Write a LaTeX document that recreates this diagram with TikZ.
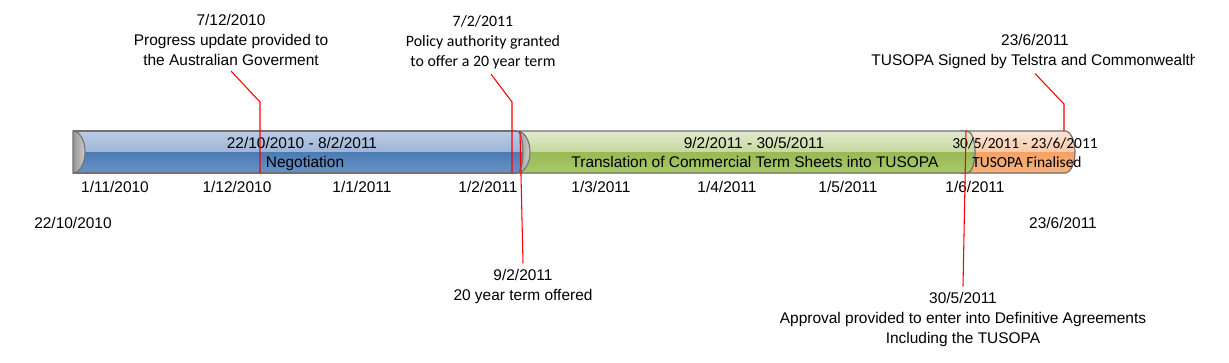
\documentclass[tikz,border=0pt]{standalone}
\usepackage{fontspec}
\setmainfont{Liberation Sans}
\newfontfamily\calibri{Carlito}
\usepackage{tikz}
\definecolor{Neg-1}{RGB}{190,206,230}
\definecolor{Neg-2}{RGB}{158,181,216}
\definecolor{Neg-3}{RGB}{76,122,178}
\definecolor{Neg-4}{RGB}{104,150,204}
\definecolor{Trn-1}{RGB}{228,236,210}
\definecolor{Trn-2}{RGB}{198,216,158}
\definecolor{Trn-3}{RGB}{152,185,86}
\definecolor{Trn-4}{RGB}{172,202,108}
\definecolor{Fin-1}{RGB}{253,232,220}
\definecolor{Fin-2}{RGB}{249,201,166}
\definecolor{Fin-3}{RGB}{243,162,104}
\definecolor{Fin-4}{RGB}{248,180,128}
\definecolor{Cap-1}{RGB}{205,205,205}
\definecolor{Cap-2}{RGB}{150,150,150}
\definecolor{Edge}{RGB}{112,112,112}

\begin{document}
\begin{tikzpicture}[x=0.75pt, y=0.75pt,
  datelbl/.style={font=\fontsize{11.6}{15}\selectfont, inner sep=0pt, anchor=base},
  callout/.style={font=\fontsize{11.6}{15}\selectfont, inner sep=0pt, outer sep=4pt, align=center},
  redline/.style={draw=red, line width=0.8pt},
  baredge/.style={draw=Edge, line width=0.9pt},
  endcap/.style={draw=Edge, line width=0.8pt, left color=Cap-2, right color=Cap-1}]
  \useasboundingbox (0,0) rectangle (1229,-362);

  % bar: finalised (bottom of the stack)
  \begin{scope}
    \clip (960,-131) -- (1065,-131) arc[start angle=90, end angle=-90, x radius=10, y radius=21] -- (960,-173) -- cycle;
    \fill[top color=Fin-1, bottom color=Fin-2] (955,-129) rectangle (1080,-152);
    \fill[top color=Fin-3, bottom color=Fin-4] (955,-152) rectangle (1080,-175);
  \end{scope}
  \draw[baredge] (960,-131) -- (1065,-131) arc[start angle=90, end angle=-90, x radius=10, y radius=21] -- (960,-173);

  % bar: translation
  \begin{scope}
    \clip (518,-131) -- (967,-131) arc[start angle=90, end angle=-90, x radius=8, y radius=21] -- (518,-173) -- cycle;
    \fill[top color=Trn-1, bottom color=Trn-2] (515,-129) rectangle (980,-152);
    \fill[top color=Trn-3, bottom color=Trn-4] (515,-152) rectangle (980,-175);
  \end{scope}
  \draw[baredge] (518,-131) -- (967,-131) arc[start angle=90, end angle=-90, x radius=8, y radius=21] -- (518,-173);

  % bar: negotiation
  \begin{scope}
    \clip (73,-131) -- (517,-131) arc[start angle=90, end angle=-90, x radius=6, y radius=21] -- (73,-173) -- cycle;
    \fill[top color=Neg-1, bottom color=Neg-2] (70,-129) rectangle (530,-152);
    \fill[top color=Neg-3, bottom color=Neg-4] (70,-152) rectangle (530,-175);
  \end{scope}
  \draw[baredge] (73,-131) -- (517,-131) (517,-173) -- (73,-173) -- cycle;

  % end caps
  \draw[endcap] (73,-131) arc[start angle=90, end angle=-90, x radius=12, y radius=21] -- cycle;
  \draw[endcap] (517,-131) arc[start angle=90, end angle=-90, x radius=6, y radius=21]
    arc[start angle=-90, end angle=90, x radius=13, y radius=21] -- cycle;

  % texts on the bar
  \node[datelbl] (negdate) at (302,-148.5) {22/10/2010 - 8/2/2011};
  \node[datelbl] (negname) at (305,-167.5) {Negotiation};
  \node[datelbl] (trndate) at (754,-148.5) {9/2/2011 - 30/5/2011};
  \node[datelbl] (trnname) at (755,-167.5) {Translation of Commercial Term Sheets into TUSOPA};
  \node[datelbl, font=\calibri\fontsize{11.6}{15}\selectfont] (findate) at (1025,-148.5) {30/5/2011 - 23/6/2011};
  \node[datelbl, font=\calibri\fontsize{11.6}{15}\selectfont] (finname) at (1027,-167.5) {TUSOPA Finalised};

  % month labels
  \node[datelbl] (nov) at (115,-192.5) {1/11/2010};
  \node[datelbl] (dec) at (237,-192.5) {1/12/2010};
  \node[datelbl] (jan) at (362,-192.5) {1/1/2011};
  \node[datelbl] (feb) at (488,-192.5) {1/2/2011};
  \node[datelbl] (mar) at (601,-192.5) {1/3/2011};
  \node[datelbl] (apr) at (727,-192.5) {1/4/2011};
  \node[datelbl] (may) at (848,-192.5) {1/5/2011};
  \node[datelbl] (jun) at (975,-192.5) {1/6/2011};
  \node[datelbl] (start) at (73,-228.5) {22/10/2010};
  \node[datelbl] (end) at (1063,-228.5) {23/6/2011};

  % milestones above
  \node[callout] (upd) at (231,-40) {7/12/2010\\Progress update provided to\\the Australian Goverment};
  \node[callout, font=\calibri\fontsize{11.9}{15}\selectfont] (pol) at (483,-42) {7/2/2011\\Policy authority granted\\to offer a 20 year term};
  \begin{scope}
    \clip (0,0) rectangle (1194,-362);
    \node[callout] (sig) at (1035,-51) {23/6/2011\\TUSOPA Signed by Telstra and Commonwealth};
  \end{scope}

  % milestones below
  \node[callout] (off) at (523,-286) {9/2/2011\\20 year term offered};
  \node[callout] (appr) at (963,-319) {30/5/2011\\Approval provided to enter into Definitive Agreements\\Including the TUSOPA};

  \coordinate (upd-knee) at (260,-102);
  \coordinate (upd-foot) at (260,-173);
  \coordinate (pol-knee) at (512,-102);
  \coordinate (pol-foot) at (512,-173);
  \coordinate (sig-knee) at (1064,-104);
  \coordinate (sig-foot) at (1064,-131);
  \coordinate (off-top) at (520,-131);
  \coordinate (appr-top) at (966,-131);

  \draw[redline] (upd.south) -- (upd-knee) -- (upd-foot);
  \draw[redline] ([xshift=6pt]pol.south) -- (pol-knee) -- (pol-foot);
  \draw[redline] (sig.south) -- (sig-knee) -- (sig-foot);
  \draw[redline] (off-top) -- (off.north);
  \draw[redline] (appr-top) -- (appr.north);
\end{tikzpicture}
\end{document}
